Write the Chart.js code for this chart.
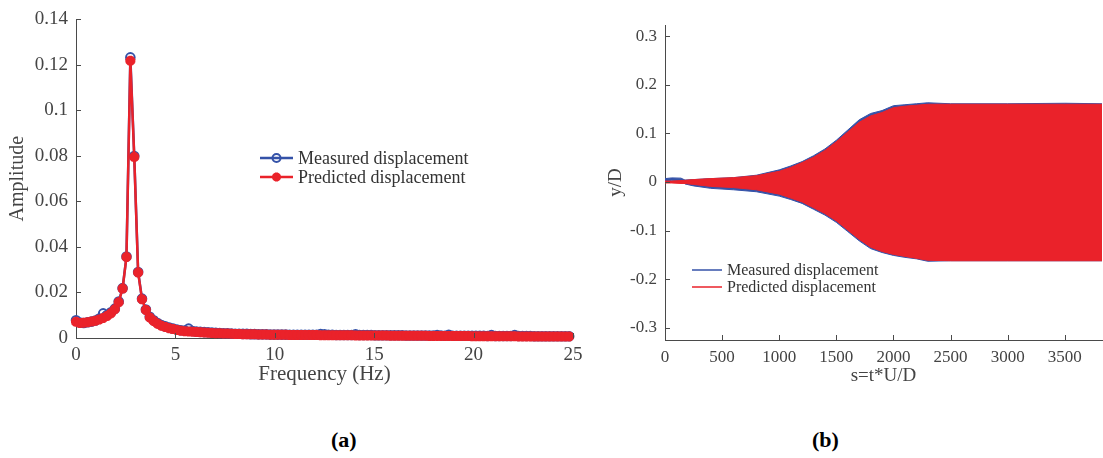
<!DOCTYPE html>
<html>
<head>
<meta charset="utf-8">
<script src="https://cdn.jsdelivr.net/npm/chart.js@4.4.1/dist/chart.umd.min.js"></script>
<style>
  body { margin: 0; background: #fff; width: 1103px; height: 458px; overflow: hidden; position: relative; }
  #wa { position: absolute; left: 0; top: 0; }
  #wb { position: absolute; left: 590px; top: 0; }
  .cap { position: absolute; top: 427px; font: bold 22px "Liberation Serif", serif; color: #000; }
</style>
</head>
<body>
<div id="wa"><canvas id="chartA" width="600" height="400"></canvas></div>
<div id="wb"><canvas id="chartB" width="513" height="400"></canvas></div>
<div class="cap" style="left:331px">(a)</div>
<div class="cap" style="left:812px">(b)</div>
<script>
// (a) spectrum
const freq = [
  0, 0.195, 0.391, 0.586, 0.781, 0.977, 1.172, 1.367, 1.563, 1.758,
  1.953, 2.148, 2.344, 2.539, 2.734, 2.930, 3.125, 3.320, 3.516, 3.711,
  3.906, 4.102, 4.297, 4.492, 4.688, 4.883, 5.078, 5.273, 5.469, 5.664,
  5.859, 6.055, 6.250, 6.445, 6.641, 6.836, 7.031, 7.227, 7.422, 7.617,
  7.813, 8.008, 8.203, 8.398, 8.594, 8.789, 8.984, 9.180, 9.375, 9.570,
  9.766, 9.961, 10.156, 10.352, 10.547, 10.742, 10.938, 11.133, 11.328, 11.523,
  11.719, 11.914, 12.109, 12.305, 12.500, 12.695, 12.891, 13.086, 13.281, 13.477,
  13.672, 13.867, 14.063, 14.258, 14.453, 14.648, 14.844, 15.039, 15.234, 15.430,
  15.625, 15.820, 16.016, 16.211, 16.406, 16.602, 16.797, 16.992, 17.188, 17.383,
  17.578, 17.773, 17.969, 18.164, 18.359, 18.555, 18.750, 18.945, 19.141, 19.336,
  19.531, 19.727, 19.922, 20.117, 20.313, 20.508, 20.703, 20.898, 21.094, 21.289,
  21.484, 21.680, 21.875, 22.070, 22.266, 22.461, 22.656, 22.852, 23.047, 23.242,
  23.438, 23.633, 23.828, 24.023, 24.219, 24.414, 24.609, 24.805
];
const measuredAmp = [
  0.0078, 0.0068, 0.0066, 0.0069, 0.0072, 0.0077, 0.0086, 0.0108, 0.0101, 0.0113,
  0.0129, 0.0160, 0.0219, 0.0358, 0.1233, 0.0800, 0.0290, 0.0173, 0.0125, 0.0093,
  0.0078, 0.0066, 0.0057, 0.0051, 0.0046, 0.0041, 0.0037, 0.0034, 0.0033, 0.0041,
  0.0031, 0.0028, 0.0027, 0.0026, 0.0025, 0.0024, 0.0023, 0.0022, 0.0021, 0.0021,
  0.0020, 0.0019, 0.0019, 0.0018, 0.0018, 0.0017, 0.0017, 0.0016, 0.0016, 0.0016,
  0.0015, 0.0015, 0.0015, 0.0015, 0.0015, 0.0014, 0.0014, 0.0014, 0.0014, 0.0014,
  0.0014, 0.0014, 0.0014, 0.0017, 0.0016, 0.0014, 0.0014, 0.0013, 0.0013, 0.0013,
  0.0013, 0.0013, 0.0016, 0.0013, 0.0013, 0.0013, 0.0013, 0.0012, 0.0012, 0.0012,
  0.0012, 0.0012, 0.0012, 0.0012, 0.0012, 0.0011, 0.0011, 0.0011, 0.0011, 0.0011,
  0.0011, 0.0011, 0.0011, 0.0013, 0.0011, 0.0010, 0.0014, 0.0010, 0.0010, 0.0010,
  0.0010, 0.0010, 0.0010, 0.0010, 0.0010, 0.0010, 0.0009, 0.0013, 0.0009, 0.0009,
  0.0009, 0.0009, 0.0009, 0.0013, 0.0009, 0.0009, 0.0009, 0.0009, 0.0008, 0.0008,
  0.0008, 0.0008, 0.0008, 0.0008, 0.0008, 0.0008, 0.0008, 0.0008
];
const predictedAmp = [
  0.0071, 0.0066, 0.0067, 0.0069, 0.0072, 0.0076, 0.0081, 0.0088, 0.0097, 0.0109,
  0.0126, 0.0157, 0.0217, 0.0356, 0.1218, 0.0795, 0.0288, 0.0170, 0.0123, 0.0090,
  0.0075, 0.0063, 0.0054, 0.0048, 0.0043, 0.0039, 0.0035, 0.0032, 0.0030, 0.0029,
  0.0028, 0.0026, 0.0025, 0.0024, 0.0023, 0.0022, 0.0021, 0.0021, 0.0020, 0.0020,
  0.0019, 0.0018, 0.0018, 0.0017, 0.0017, 0.0016, 0.0016, 0.0015, 0.0015, 0.0015,
  0.0014, 0.0014, 0.0014, 0.0014, 0.0014, 0.0013, 0.0013, 0.0013, 0.0013, 0.0013,
  0.0013, 0.0013, 0.0013, 0.0012, 0.0012, 0.0012, 0.0012, 0.0012, 0.0012, 0.0012,
  0.0012, 0.0012, 0.0011, 0.0011, 0.0011, 0.0011, 0.0011, 0.0011, 0.0011, 0.0011,
  0.0011, 0.0010, 0.0010, 0.0010, 0.0010, 0.0010, 0.0010, 0.0010, 0.0010, 0.0010,
  0.0010, 0.0009, 0.0009, 0.0009, 0.0009, 0.0009, 0.0009, 0.0009, 0.0009, 0.0009,
  0.0009, 0.0009, 0.0008, 0.0008, 0.0008, 0.0008, 0.0008, 0.0008, 0.0008, 0.0008,
  0.0008, 0.0008, 0.0008, 0.0008, 0.0007, 0.0007, 0.0007, 0.0007, 0.0007, 0.0007,
  0.0007, 0.0007, 0.0007, 0.0007, 0.0007, 0.0007, 0.0007, 0.0007
];
const freqTicks = [0, 5, 10, 15, 20, 25];
const ampTicks = [0, 0.02, 0.04, 0.06, 0.08, 0.1, 0.12, 0.14];
const ampTickLabels = ['0', '0.02', '0.04', '0.06', '0.08', '0.1', '0.12', '0.14'];

// (b) time history, envelope of the oscillation
const sVals      = [0, 60, 140, 175, 250, 400, 600, 800, 1000, 1100, 1200, 1300, 1400, 1500, 1600, 1700, 1800, 1900, 2000, 2100, 2200, 2300, 2500, 3000, 3500, 3825];
const measUpper  = [0.007, 0.0085, 0.008, 0.004, 0.005, 0.007, 0.009, 0.014, 0.025, 0.033, 0.042, 0.054, 0.068, 0.086, 0.107, 0.128, 0.141, 0.147, 0.157, 0.159, 0.161, 0.163, 0.161, 0.161, 0.162, 0.161];
const measLower  = [0.003, 0.0035, 0.003, -0.004, -0.008, -0.013, -0.016, -0.020, -0.029, -0.036, -0.044, -0.056, -0.068, -0.083, -0.102, -0.121, -0.137, -0.145, -0.151, -0.155, -0.158, -0.163, -0.162, -0.162, -0.162, -0.162];
const predUpper  = [0.002, 0.002, 0.003, 0.0035, 0.005, 0.007, 0.009, 0.013, 0.022, 0.030, 0.040, 0.051, 0.065, 0.083, 0.103, 0.123, 0.136, 0.143, 0.153, 0.156, 0.158, 0.160, 0.160, 0.160, 0.160, 0.160];
const predLower  = [-0.002, -0.002, -0.003, -0.003, -0.005, -0.009, -0.0115, -0.016, -0.025, -0.033, -0.041, -0.053, -0.065, -0.080, -0.099, -0.118, -0.134, -0.143, -0.149, -0.153, -0.157, -0.161, -0.162, -0.162, -0.162, -0.162];
const sTicks = [0, 500, 1000, 1500, 2000, 2500, 3000, 3500];
const ydTicks = [-0.3, -0.2, -0.1, 0, 0.1, 0.2, 0.3];
const ydTickLabels = ['-0.3', '-0.2', '-0.1', '0', '0.1', '0.2', '0.3'];

const BLUE = 'rgb(52, 82, 168)';
const RED = 'rgb(234, 34, 42)';
const AXIS = '#4a4a4a';
const TEXT = '#444';

Chart.defaults.font.family = '"Liberation Serif", "Times New Roman", serif';
Chart.defaults.color = TEXT;

const pts = (xs, ys) => xs.map((x, i) => ({ x: x, y: ys[i] }));

// matlab style ticks pointing into the plot
const inwardTicks = {
  id: 'inwardTicks',
  afterDraw(chart) {
    const ctx = chart.ctx, a = chart.chartArea;
    const x = chart.scales.x, y = chart.scales.y;
    ctx.save();
    ctx.strokeStyle = AXIS;
    ctx.lineWidth = 1;
    ctx.beginPath();
    x.ticks.forEach(t => {
      const px = Math.round(x.getPixelForValue(t.value)) + 0.5;
      ctx.moveTo(px, a.bottom); ctx.lineTo(px, a.bottom - 5);
    });
    y.ticks.forEach(t => {
      const py = Math.round(y.getPixelForValue(t.value)) + 0.5;
      ctx.moveTo(a.left, py); ctx.lineTo(a.left + 5, py);
    });
    ctx.stroke();
    ctx.restore();
  }
};

// legend box placed inside the plot like the original
const boxLegend = {
  id: 'boxLegend',
  afterDraw(chart, args, opts) {
    const ctx = chart.ctx;
    ctx.save();
    ctx.font = opts.fontSize + 'px "Liberation Serif"';
    ctx.textBaseline = 'middle';
    opts.items.forEach((it, i) => {
      const y = opts.y + i * opts.gap;
      ctx.strokeStyle = it.color;
      ctx.lineWidth = it.lineWidth;
      ctx.beginPath();
      ctx.moveTo(opts.x, y);
      ctx.lineTo(opts.x + opts.len, y);
      ctx.stroke();
      if (it.pointStyle) {
        ctx.fillStyle = it.fill;
        ctx.lineWidth = it.pointBorder;
        Chart.helpers.drawPoint(ctx, { pointStyle: it.pointStyle, radius: it.radius, borderWidth: it.pointBorder, rotation: 0 }, opts.x + opts.len / 2, y);
      }
      ctx.fillStyle = '#333';
      ctx.fillText(it.text, opts.x + opts.len + 5, y + 1);
    });
    ctx.restore();
  }
};

function axisOpts(ticks, labels, tickPad, tickSize, fitFn, title, titleSize, titlePad) {
  return {
    type: 'linear',
    afterBuildTicks: s => { s.ticks = ticks.map(v => ({ value: v })); },
    afterFit: fitFn,
    grid: { display: false, drawTicks: false },
    border: { display: true, color: AXIS, width: 1 },
    ticks: {
      padding: tickPad, autoSkip: false, maxRotation: 0,
      font: { size: tickSize }, color: TEXT,
      callback: v => labels[ticks.indexOf(v)]
    },
    title: { display: true, text: title, font: { size: titleSize }, color: TEXT, padding: titlePad }
  };
}

// chart (a)
const xA = axisOpts(freqTicks, freqTicks.map(String), 6, 19, s => { s.height = 62; }, 'Frequency (Hz)', 21, { top: 0, bottom: 13 });
xA.min = 0; xA.max = 25;
const yA = axisOpts(ampTicks, ampTickLabels, 8, 19, s => { s.width = 76; }, 'Amplitude', 20, { top: 6, bottom: 0 });
yA.min = 0; yA.max = 0.14;

new Chart(document.getElementById('chartA'), {
  type: 'line',
  data: {
    datasets: [{
      label: 'Predicted displacement',
      data: pts(freq, predictedAmp),
      borderColor: RED,
      backgroundColor: RED,
      borderWidth: 2.5,
      pointStyle: 'star',
      pointRadius: 5,
      pointBorderWidth: 3.5,
      pointBorderColor: RED,
      pointBackgroundColor: RED,
      tension: 0,
      clip: false
    }, {
      label: 'Measured displacement',
      data: pts(freq, measuredAmp),
      borderColor: BLUE,
      backgroundColor: BLUE,
      borderWidth: 2.5,
      pointStyle: 'circle',
      pointRadius: 4.3,
      pointBorderWidth: 2,
      pointBorderColor: BLUE,
      pointBackgroundColor: 'rgba(255,255,255,0)',
      tension: 0,
      clip: false
    }]
  },
  options: {
    responsive: false,
    animation: false,
    devicePixelRatio: 1,
    layout: { padding: { top: 13, right: 27, left: 0, bottom: 0 } },
    plugins: {
      legend: { display: false },
      tooltip: { enabled: false },
      boxLegend: {
        x: 260, y: 158, gap: 19, len: 33, fontSize: 18,
        items: [
          { text: 'Measured displacement', color: BLUE, lineWidth: 2.5, pointStyle: 'circle', radius: 4, pointBorder: 2, fill: 'rgba(255,255,255,0)' },
          { text: 'Predicted displacement', color: RED, lineWidth: 2.5, pointStyle: 'star', radius: 4.5, pointBorder: 3, fill: RED }
        ]
      }
    },
    scales: { x: xA, y: yA }
  },
  plugins: [inwardTicks, boxLegend]
});

// chart (b)
const xB = axisOpts(sTicks, sTicks.map(String), 7, 17, s => { s.height = 60; }, 's=t*U/D', 19, { top: 0, bottom: 13 });
xB.min = 0; xB.max = 3825;
const yB = axisOpts(ydTicks, ydTickLabels, 8, 17, s => { s.width = 75; }, 'y/D', 19, { top: 15, bottom: 0 });
yB.min = -0.325; yB.max = 0.323;

const band = (label, ys, color, fill) => ({
  label: label,
  data: pts(sVals, ys),
  borderColor: color,
  backgroundColor: color,
  borderWidth: 1,
  pointRadius: 0,
  tension: 0,
  fill: fill
});

new Chart(document.getElementById('chartB'), {
  type: 'line',
  data: {
    datasets: [
      band('Predicted displacement', predUpper, RED, '+1'),
      band('Predicted lower', predLower, RED, false),
      band('Measured displacement', measUpper, BLUE, '+1'),
      band('Measured lower', measLower, BLUE, false)
    ]
  },
  options: {
    responsive: false,
    animation: false,
    devicePixelRatio: 1,
    layout: { padding: { top: 25, right: 1, left: 0, bottom: 0 } },
    plugins: {
      legend: { display: false },
      tooltip: { enabled: false },
      boxLegend: {
        x: 102, y: 270, gap: 17, len: 30, fontSize: 16,
        items: [
          { text: 'Measured displacement', color: BLUE, lineWidth: 1.5 },
          { text: 'Predicted displacement', color: RED, lineWidth: 1.5 }
        ]
      }
    },
    scales: { x: xB, y: yB }
  },
  plugins: [inwardTicks, boxLegend]
});
</script>
</body>
</html>
